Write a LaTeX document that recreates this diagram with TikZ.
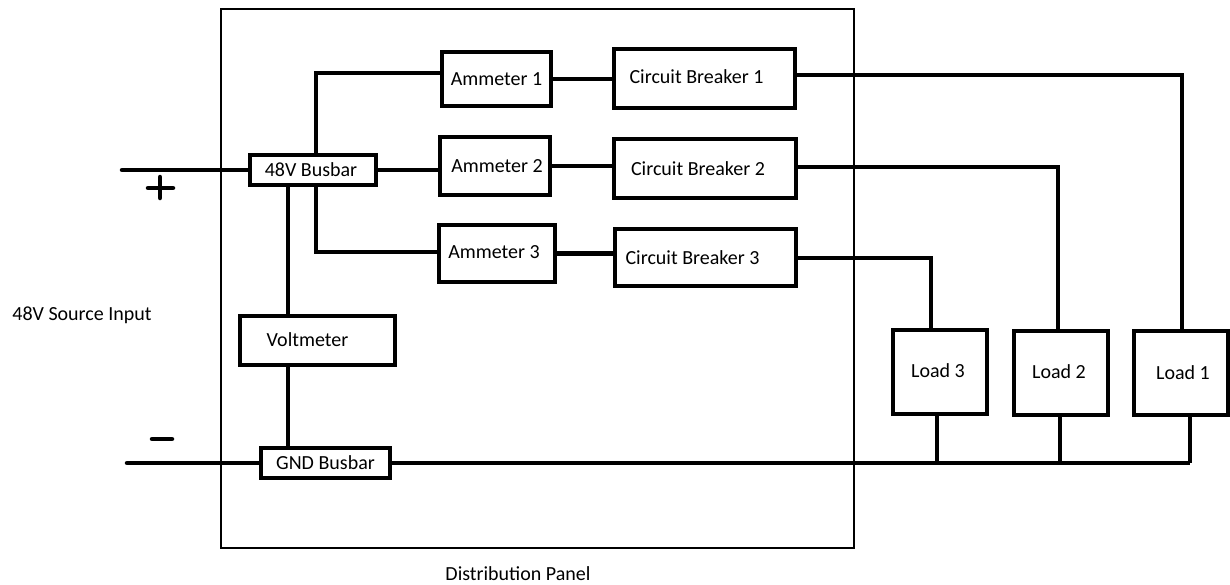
\documentclass[tikz,border=0pt]{standalone}
\usepackage{fontspec}
\setmainfont{Carlito}
\usetikzlibrary{backgrounds}
\begin{document}
\begin{tikzpicture}[x=1pt,y=-1pt,
  box/.style={draw,line width=4.5pt,fill=white,inner sep=0pt,font=\fontsize{20}{24}\selectfont},
  wire/.style={line width=4.5pt},
  sign/.style={line width=4.5pt,line cap=round},
  lbl/.style={inner sep=0pt,font=\fontsize{20}{24}\selectfont}]
\useasboundingbox (0,0) rectangle (1230,584);
% coordinates
\coordinate (srcP) at (122,170);
\coordinate (srcN) at (127,463);
\coordinate (j1) at (316,73);
\coordinate (j3) at (316,252);
\coordinate (vx) at (288,340);
\coordinate (t1) at (1182,75);
\coordinate (t2) at (1058,167);
\coordinate (t3) at (931,258);
\coordinate (b3) at (937,463);
\coordinate (b2) at (1060,463);
\coordinate (b1) at (1190,463);
\coordinate (pm1) at (148,188);
\coordinate (pm2) at (173,188);
\coordinate (pv1) at (160,177);
\coordinate (pv2) at (160,198);
\coordinate (mn1) at (152,439);
\coordinate (mn2) at (172,439);
% panel
\node[draw,line width=2.7pt,inner sep=0pt,minimum width=633pt,minimum height=539pt] (panel) at (537.5,278.5) {};
\node[lbl] (panellbl) at (518,574) {Distribution Panel};
\node[lbl] (srclbl) at (82,315) {48V Source Input};
% boxes
\node[box,minimum width=126pt,minimum height=30pt] (bus) at (313,170) {48V Busbar\hspace*{4pt}};
\node[box,minimum width=109pt,minimum height=54pt] (am1) at (496.5,79) {Ammeter 1};
\node[box,minimum width=181pt,minimum height=59pt] (cb1) at (704.5,78.5) {\raisebox{3pt}{Circuit Breaker 1}\hspace*{16pt}};
\node[box,minimum width=110pt,minimum height=58pt] (am2) at (495,166) {Ammeter 2\hspace*{-4pt}};
\node[box,minimum width=182pt,minimum height=59pt] (cb2) at (705,168.5) {Circuit Breaker 2\hspace*{14pt}};
\node[box,minimum width=116pt,minimum height=57pt] (am3) at (497,253.5) {\raisebox{3pt}{Ammeter 3}\hspace*{6pt}};
\node[box,minimum width=181pt,minimum height=57pt] (cb3) at (705.5,257.5) {Circuit Breaker 3\hspace*{26pt}};
\node[box,minimum width=155pt,minimum height=49pt] (volt) at (317.5,340.5) {\raisebox{1pt}{Voltmeter}\hspace*{20pt}};
\node[box,minimum width=129pt,minimum height=30pt] (gnd) at (325.5,463) {GND Busbar};
\node[box,minimum width=94pt,minimum height=84pt] (load3) at (940,372) {\raisebox{2pt}{Load 3}\hspace*{4pt}};
\node[box,minimum width=94pt,minimum height=84pt] (load2) at (1061,373) {\raisebox{3pt}{Load 2}\hspace*{4pt}};
\node[box,minimum width=94pt,minimum height=84pt] (load1) at (1181,373) {Load 1\hspace*{-4pt}};
% wires
\begin{pgfonlayer}{background}
\draw[wire,line cap=round] (srcP) -- (bus.west);
\draw[wire,line cap=round] (srcN) -- (gnd.west);
\draw[wire] (bus.north -| j1) -- (j1) -- (am1.west |- j1);
\draw[wire] (am1.east) -- (cb1.west |- am1.east);
\draw[wire] (bus.east) -- (am2.west |- bus.east);
\draw[wire] (am2.east) -- (cb2.west |- am2.east);
\draw[wire] (bus.south -| j3) -- (j3) -- (am3.west |- j3);
\draw[wire] (am3.east) -- (cb3.west |- am3.east);
\draw[wire] (cb1.east |- t1) -- (t1) -- (load1.north -| t1);
\draw[wire] (cb2.east |- t2) -- (t2) -- (load2.north -| t2);
\draw[wire] (cb3.east |- t3) -- (t3) -- (load3.north -| t3);
\draw[wire] (bus.south -| vx) -- (volt.north -| vx);
\draw[wire] (volt.south -| vx) -- (gnd.north -| vx);
\draw[wire] (gnd.east) -- (b1);
\draw[wire] (load3.south -| b3) -- (b3);
\draw[wire] (load2.south -| b2) -- (b2);
\draw[wire] (load1.south -| b1) -- (b1);
\end{pgfonlayer}
% plus and minus signs
\draw[sign] (pm1) -- (pm2) (pv1) -- (pv2);
\draw[sign] (mn1) -- (mn2);
\end{tikzpicture}
\end{document}
